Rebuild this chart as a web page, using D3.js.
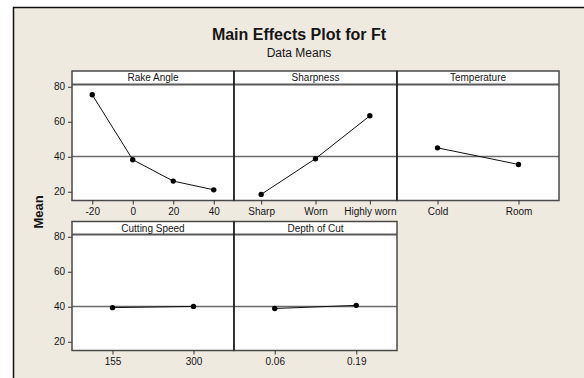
<!DOCTYPE html>
<html>
<head>
<meta charset="utf-8">
<script src="https://cdn.jsdelivr.net/npm/d3@7"></script>
<style>
  html, body { margin: 0; padding: 0; background: #ffffff; }
  svg { display: block; }
  text { font-family: "Liberation Sans", Arial, sans-serif; fill: #151515; }
</style>
</head>
<body>
<div id="chart"></div>
<script>
// Factor names and the mean response at each level
const factors = ["Rake Angle", "Sharpness", "Temperature", "Cutting Speed", "Depth of Cut"];

const rakeAngleLevels = ["-20", "0", "20", "40"];
const rakeAngleMeans = [75.4, 38.3, 26.1, 21.1];

const sharpnessLevels = ["Sharp", "Worn", "Highly worn"];
const sharpnessMeans = [18.5, 38.9, 63.4];

const temperatureLevels = ["Cold", "Room"];
const temperatureMeans = [45.1, 35.6];

const cuttingSpeedLevels = ["155", "300"];
const cuttingSpeedMeans = [39.5, 40.2];

const depthOfCutLevels = ["0.06", "0.19"];
const depthOfCutMeans = [39.0, 40.8];

const yTicks = [20, 40, 60, 80];
const grandMean = 40.1;

const W = 584, H = 378;

const svg = d3.select("#chart").append("svg")
  .attr("width", W).attr("height", H);

// Background frame
svg.append("rect").attr("x", 0).attr("y", 0).attr("width", W).attr("height", H).attr("fill", "#ffffff");
svg.append("rect").attr("x", 13).attr("y", 7).attr("width", W).attr("height", H)
  .attr("fill", "#eeeae0");
svg.append("path").attr("d", `M13.5,${H} L13.5,7.5 L${W},7.5`)
  .attr("fill", "none").attr("stroke", "#111").attr("stroke-width", 1.5);

// Titles
svg.append("text").attr("x", 299).attr("y", 40).attr("text-anchor", "middle")
  .attr("font-size", 16).attr("font-weight", "bold").text("Main Effects Plot for Ft");
svg.append("text").attr("x", 299).attr("y", 56.5).attr("text-anchor", "middle")
  .attr("font-size", 12).text("Data Means");

// Y-axis title
svg.append("text").attr("transform", "translate(42.5,212) rotate(-90)")
  .attr("text-anchor", "middle").attr("font-size", 13).attr("font-weight", "bold").text("Mean");

// Panel grid layout
const colEdges = [72, 234, 397, 559];
const rows = [
  { top: 71, head: 84.5, bottom: 200.5 },
  { top: 221.5, head: 234.5, bottom: 350.5 }
];

const panels = [
  { name: factors[0], levels: rakeAngleLevels, means: rakeAngleMeans, row: 0, col: 0 },
  { name: factors[1], levels: sharpnessLevels, means: sharpnessMeans, row: 0, col: 1 },
  { name: factors[2], levels: temperatureLevels, means: temperatureMeans, row: 0, col: 2 },
  { name: factors[3], levels: cuttingSpeedLevels, means: cuttingSpeedMeans, row: 1, col: 0 },
  { name: factors[4], levels: depthOfCutLevels, means: depthOfCutMeans, row: 1, col: 1 }
];

// One y scale per row, shared by the panels in that row
const yScales = rows.map(r => d3.scaleLinear().domain([15, 81.3]).range([r.bottom, r.head]));

// Y axes on the left of each row
rows.forEach((r, i) => {
  const g = svg.append("g").attr("transform", `translate(${colEdges[0]},0)`)
    .call(d3.axisLeft(yScales[i]).tickValues(yTicks).tickSize(4).tickPadding(3));
  g.select(".domain").remove();
  g.selectAll(".tick line").attr("stroke", "#333");
  g.selectAll(".tick text").attr("font-size", 10).attr("font-family", "Liberation Sans, Arial, sans-serif").attr("fill", "#151515");
});

// Panels
panels.forEach(p => {
  const r = rows[p.row];
  const x0 = colEdges[p.col], x1 = colEdges[p.col + 1];
  const y = yScales[p.row];
  const x = d3.scalePoint().domain(p.levels).range([x0, x1]).padding(0.5);

  const g = svg.append("g");

  // plotting area and header strip
  g.append("rect").attr("x", x0).attr("y", r.top).attr("width", x1 - x0).attr("height", r.bottom - r.top)
    .attr("fill", "#ffffff");

  // grand mean reference line
  g.append("line").attr("x1", x0).attr("x2", x1)
    .attr("y1", y(grandMean)).attr("y2", y(grandMean))
    .attr("stroke", "#6a6a6a").attr("stroke-width", 1.5);

  // header
  g.append("line").attr("x1", x0).attr("x2", x1).attr("y1", r.head).attr("y2", r.head)
    .attr("stroke", "#5a5a5a").attr("stroke-width", 2);
  g.append("text").attr("x", (x0 + x1) / 2).attr("y", r.top + 10.3)
    .attr("text-anchor", "middle").attr("font-size", 10).text(p.name);

  // frame
  g.append("rect").attr("x", x0).attr("y", r.top).attr("width", x1 - x0).attr("height", r.bottom - r.top)
    .attr("fill", "none").attr("stroke", "#4a4a4a").attr("stroke-width", 1.5);

  // means line and points
  const pts = p.levels.map((lv, i) => [x(lv), y(p.means[i])]);
  g.append("path").attr("d", d3.line()(pts))
    .attr("fill", "none").attr("stroke", "#111").attr("stroke-width", 1);
  g.selectAll("circle").data(pts).join("circle")
    .attr("cx", d => d[0]).attr("cy", d => d[1]).attr("r", 2.7).attr("fill", "#000");

  // x axis
  const ax = svg.append("g").attr("transform", `translate(0,${r.bottom})`)
    .call(d3.axisBottom(x).tickSize(4).tickPadding(3));
  ax.select(".domain").remove();
  ax.selectAll(".tick line").attr("stroke", "#333");
  ax.selectAll(".tick text").attr("font-size", 10).attr("font-family", "Liberation Sans, Arial, sans-serif").attr("fill", "#151515");
});

// dark dividers between neighbouring panels
[[0, 1], [0, 2], [1, 1]].forEach(([ri, ci]) => {
  const r = rows[ri];
  svg.append("line").attr("x1", colEdges[ci]).attr("x2", colEdges[ci])
    .attr("y1", r.top).attr("y2", r.bottom).attr("stroke", "#111").attr("stroke-width", 1.2);
});
</script>
</body>
</html>
